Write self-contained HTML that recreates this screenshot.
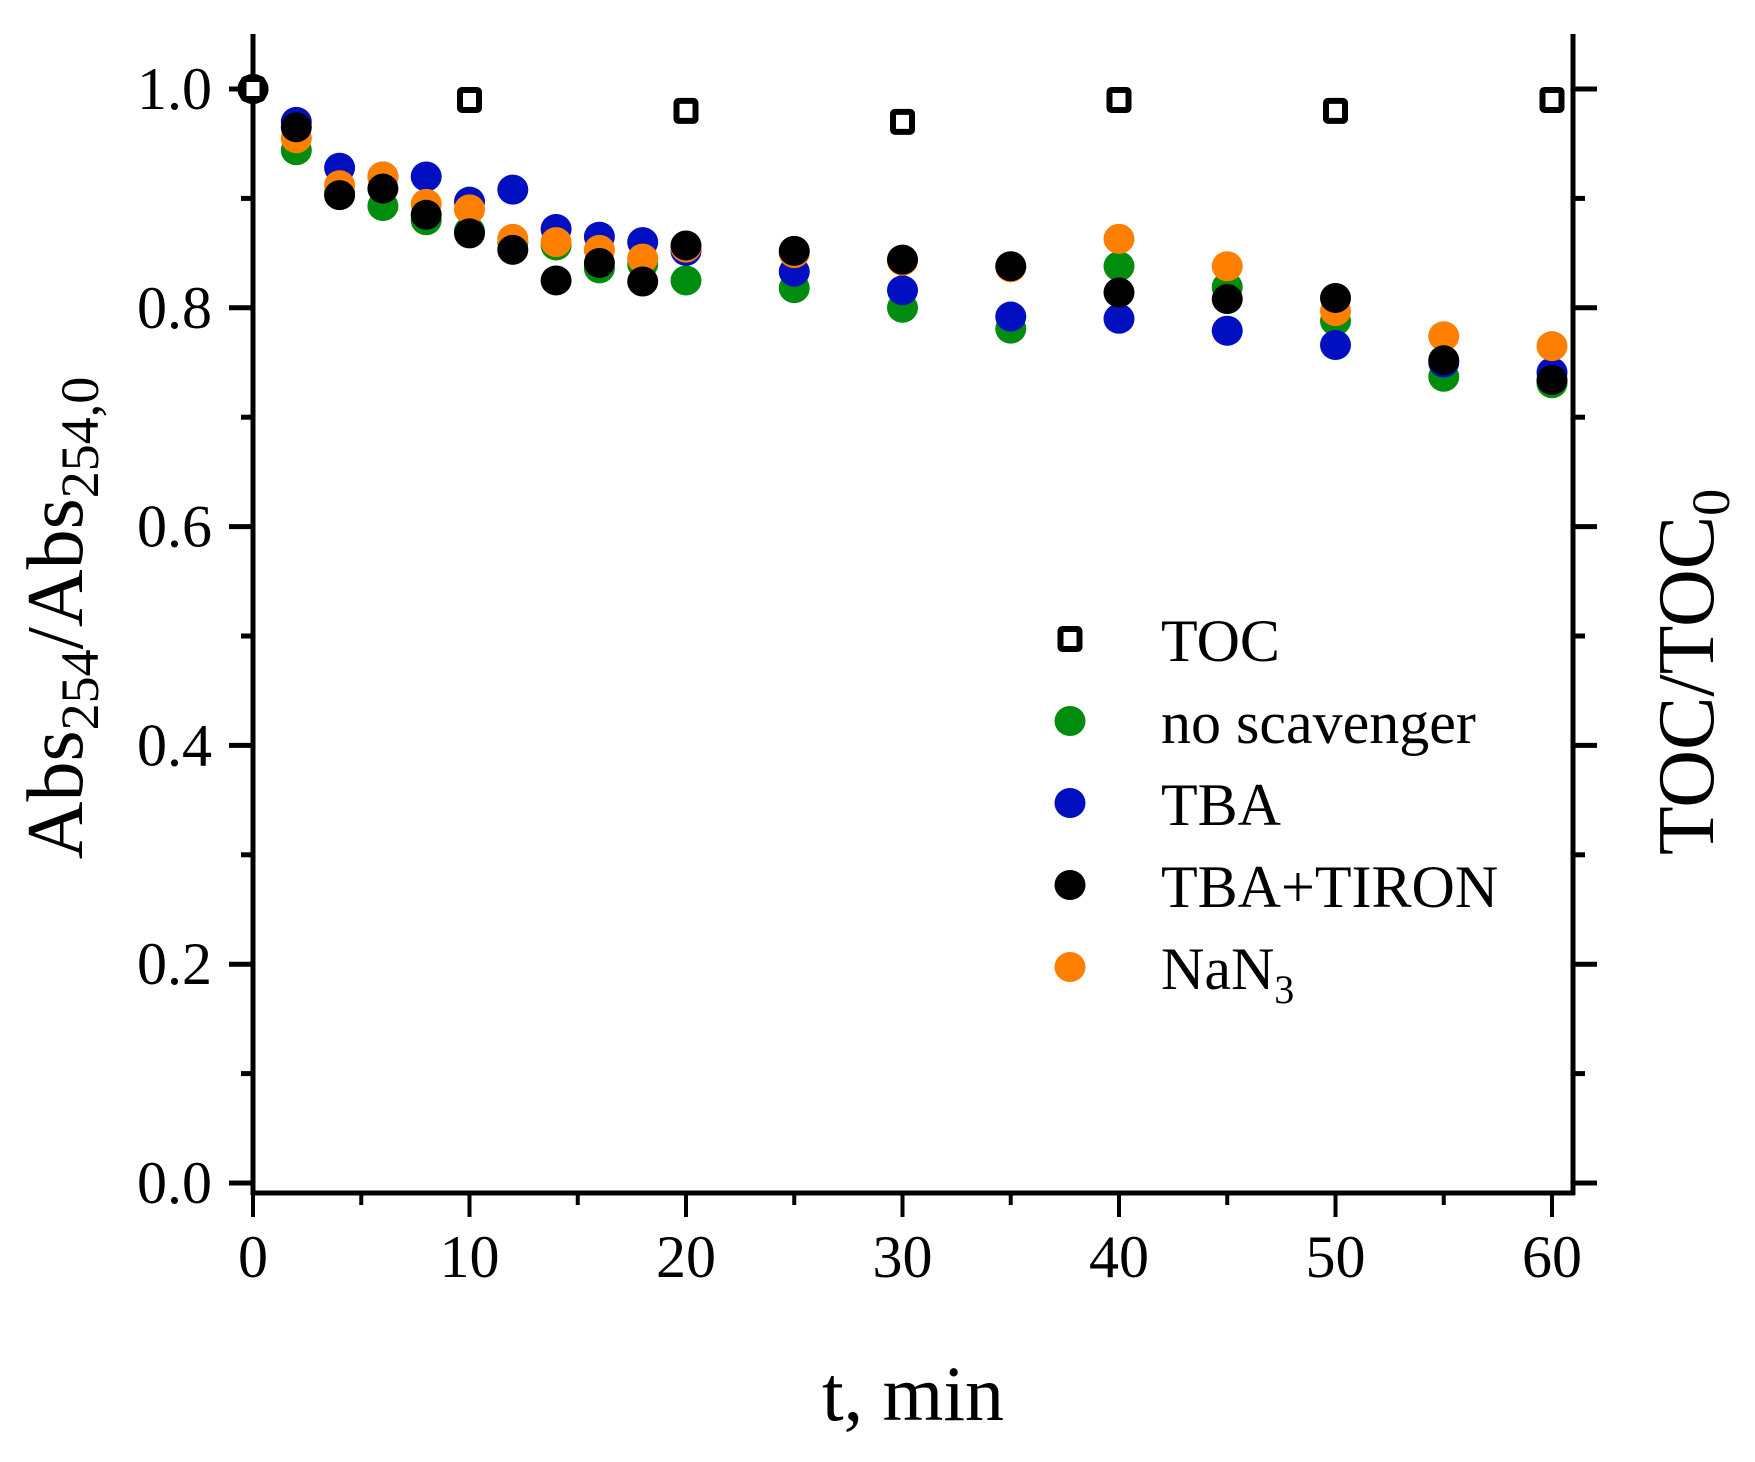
<!DOCTYPE html>
<html><head><meta charset="utf-8"><style>
html,body{margin:0;padding:0;background:#fff}
svg{display:block;font-family:"Liberation Serif",serif}
</style></head><body>
<svg id="chart" width="1755" height="1462" viewBox="0 0 1755 1462" xmlns="http://www.w3.org/2000/svg">
<g id="axes"></g>
<g id="marks"></g>
<g id="legend"></g>
<text x="913" y="1420" font-size="78" text-anchor="middle">t, min</text>
<text transform="translate(82,618) rotate(-90)" font-size="80" text-anchor="middle">Abs<tspan font-size="54" dy="16">254</tspan><tspan dy="-16">/Abs</tspan><tspan font-size="54" dy="16">254,0</tspan></text>
<text transform="translate(1713,672) rotate(-90)" font-size="80" text-anchor="middle">TOC/TOC<tspan font-size="54" dy="16">0</tspan></text>
</svg>
<script>
const times = [0,2,4,6,8,10,12,14,16,18,20,25,30,35,40,45,50,55,60];
const noScavenger = [1.0,0.944,0.905,0.893,0.88,0.87,0.86,0.857,0.836,0.84,0.825,0.818,0.80,0.781,0.838,0.819,0.788,0.737,0.731];
const tba = [1.0,0.97,0.928,0.92,0.92,0.897,0.908,0.872,0.865,0.86,0.852,0.833,0.816,0.792,0.79,0.779,0.766,0.75,0.741];
const nan3 = [1.0,0.955,0.912,0.92,0.895,0.89,0.863,0.86,0.853,0.845,0.855,0.85,0.843,0.837,0.863,0.838,0.797,0.774,0.765];
const tbaTiron = [1.0,0.965,0.903,0.909,0.885,0.868,0.853,0.825,0.841,0.824,0.857,0.852,0.844,0.838,0.814,0.808,0.809,0.752,0.734];
const tocTimes = [0,10,20,30,40,50,60];
const tocValues = [1.0,0.99,0.98,0.97,0.99,0.98,0.99];
const xTicks = [0,10,20,30,40,50,60];
const xMinor = [5,15,25,35,45,55];
const yTicks = [0.0,0.2,0.4,0.6,0.8,1.0];
const yMinor = [0.1,0.3,0.5,0.7,0.9];
const yTickLabels = ["0.0","0.2","0.4","0.6","0.8","1.0"];

const NS = "http://www.w3.org/2000/svg";
const X0 = 253, XPER = 21.65, Y0 = 1183, YPER = 1094;
const LEFT = 253, RIGHT = 1573, TOP = 34, BOTTOM = 1193;
function sx(t){ return X0 + t * XPER; }
function sy(v){ return Y0 - v * YPER; }
function mk(tag, attrs, parent){ const e = document.createElementNS(NS, tag); for (const k in attrs) e.setAttribute(k, attrs[k]); parent.appendChild(e); return e; }

const axes = document.getElementById('axes');
let el;
el = mk('line', {x1:LEFT,y1:TOP,x2:LEFT,y2:BOTTOM+2,stroke:'#000','stroke-width':5}, axes);


el = mk('line', {x1:RIGHT,y1:TOP,x2:RIGHT,y2:BOTTOM+2,stroke:'#000','stroke-width':5}, axes);


el = mk('line', {x1:LEFT-2,y1:BOTTOM,x2:RIGHT+2,y2:BOTTOM,stroke:'#000','stroke-width':5}, axes);



xTicks.forEach(t => {
  const tk = mk('line', {x1:sx(t),y1:BOTTOM,x2:sx(t),y2:BOTTOM+24,stroke:'#000','stroke-width':4}, axes);
  
  
  const lb = mk('text', {x:sx(t),y:1277,'font-size':60,'text-anchor':'middle'}, axes);
  lb.textContent = String(t);
  
  
});
xMinor.forEach(t => {
  const tk = mk('line', {x1:sx(t),y1:BOTTOM,x2:sx(t),y2:BOTTOM+12,stroke:'#000','stroke-width':4}, axes);
  
  
});
yTicks.forEach((v,i) => {
  const tk = mk('line', {x1:LEFT-24,y1:sy(v),x2:LEFT,y2:sy(v),stroke:'#000','stroke-width':5}, axes);
  
  
  const tr = mk('line', {x1:RIGHT,y1:sy(v),x2:RIGHT+24,y2:sy(v),stroke:'#000','stroke-width':5}, axes);
  
  
  const lb = mk('text', {x:212,y:sy(v)+20,'font-size':60,'text-anchor':'end'}, axes);
  lb.textContent = yTickLabels[i];
  
  
});
yMinor.forEach(v => {
  const tk = mk('line', {x1:LEFT-12,y1:sy(v),x2:LEFT,y2:sy(v),stroke:'#000','stroke-width':5}, axes);
  
  
  const tr = mk('line', {x1:RIGHT,y1:sy(v),x2:RIGHT+12,y2:sy(v),stroke:'#000','stroke-width':5}, axes);
  
  
});

const marks = document.getElementById('marks');
const series = [
  ['no-scavenger', noScavenger, '#008c0e'],
  ['tba', tba, '#0010c0'],
  ['nan3', nan3, '#ff8000'],
  ['tba-tiron', tbaTiron, '#000000']
];
series.forEach(([name, vals, col]) => {
  vals.forEach((v,i) => {
    const c = mk('ellipse', {cx:sx(times[i]),cy:sy(v),rx:15.5,ry:15,fill:col}, marks);
    
    
  });
});
tocValues.forEach((v,i) => {
  const r = mk('rect', {x:sx(tocTimes[i])-9.5,y:sy(v)-10,width:19,height:20,fill:'#fff',stroke:'#000','stroke-width':6,rx:2}, marks);
  
  
});

const legend = document.getElementById('legend');
const legendRows = [
  ['toc', 'TOC', null, 639],
  ['no-scavenger', 'no scavenger', '#008c0e', 721],
  ['tba', 'TBA', '#0010c0', 803],
  ['tba-tiron', 'TBA+TIRON', '#000000', 885],
  ['nan3', 'NaN', '#ff8000', 967]
];
legendRows.forEach(([key, label, col, y]) => {
  let m;
  if (col === null) {
    m = mk('rect', {x:1060.5,y:y-10,width:19,height:20,fill:'#fff',stroke:'#000','stroke-width':6,rx:2}, legend);
  } else {
    m = mk('ellipse', {cx:1070,cy:y,rx:15.5,ry:15,fill:col}, legend);
  }
  
  
  const t = mk('text', {x:1161,y:y+22,'font-size':60}, legend);
  t.textContent = label;
  if (key === 'nan3') {
    const s = mk('tspan', {'font-size':40,dy:14}, t);
    s.textContent = '3';
  }
  
  
});
</script>
</body></html>
